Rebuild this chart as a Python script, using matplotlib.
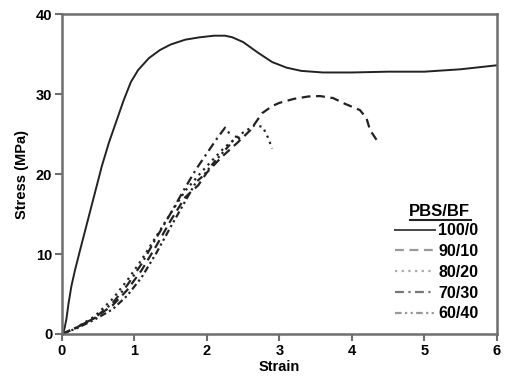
import matplotlib
matplotlib.use("Agg")
import matplotlib.pyplot as plt
from matplotlib.lines import Line2D

plt.rcParams['font.family'] = ['Liberation Sans', 'DejaVu Sans']
plt.rcParams['font.weight'] = 'bold'

labels = ["100/0", "90/10", "80/20", "70/30", "60/40"]

s100_x = [0, 0.03, 0.06, 0.09, 0.13, 0.18, 0.25, 0.35, 0.45, 0.55, 0.65, 0.75, 0.85, 0.95, 1.05, 1.2, 1.35, 1.5,
          1.7, 1.9, 2.1, 2.25, 2.35, 2.5, 2.7, 2.9, 3.1, 3.3, 3.6, 4.0, 4.5, 5.0, 5.5, 6.0]
s100_y = [0, 0.5, 1.8, 3.8, 6, 8, 10.5, 14, 17.5, 21, 24, 26.6, 29.2, 31.5, 33.0, 34.5, 35.5, 36.2,
          36.8, 37.1, 37.3, 37.3, 37.1, 36.5, 35.2, 34.0, 33.3, 32.9, 32.7, 32.7, 32.8, 32.8, 33.1, 33.6]

s90_x = [0, 0.2, 0.45, 0.7, 0.9, 1.1, 1.3, 1.5, 1.7, 1.88, 2.0, 2.2, 2.43, 2.6, 2.76, 2.9, 3.0, 3.2, 3.4, 3.56,
         3.74, 3.9, 4.11, 4.2, 4.25, 4.36, 4.38]
s90_y = [0, 0.8, 2, 3.6, 5.5, 8.0, 11.0, 14.2, 17.1, 18.6, 20.2, 22.1, 24, 25.5, 27.6, 28.5, 28.9, 29.4, 29.7, 29.75,
         29.5, 28.8, 28, 27, 25.5, 24, 23.8]

s80_x = [0, 0.2, 0.45, 0.7, 0.9, 1.1, 1.3, 1.5, 1.7, 1.9, 2.05, 2.25, 2.5, 2.66, 2.77, 2.84, 2.9]
s80_y = [0, 0.8, 2.2, 4.4, 6.7, 9.3, 12.2, 15.1, 17.9, 20, 21.5, 23.4, 25.2, 26.1, 25.9, 24.6, 23.2]

s70_x = [0, 0.2, 0.45, 0.7, 0.9, 1.1, 1.3, 1.5, 1.7, 1.85, 2.0, 2.15, 2.25, 2.3, 2.33]
s70_y = [0, 0.8, 2, 3.9, 6.1, 8.8, 12.0, 15.1, 18.3, 20.6, 22.6, 24.6, 25.8, 25.2, 24.6]

s60_x = [0, 0.2, 0.45, 0.7, 0.9, 1.1, 1.3, 1.5, 1.7, 1.85, 1.95, 2.1, 2.3, 2.42, 2.45]
s60_y = [0, 0.7, 1.8, 3.1, 4.8, 7.1, 10.1, 13.4, 16.6, 19, 19.8, 21.5, 23.5, 24.9, 24.3]

xticks = [0, 1, 2, 3, 4, 5, 6]
yticks = [0, 10, 20, 30, 40]

dark = '#222222'
styles = [
    dict(ls='-', lw=1.4),
    dict(ls=(0, (4, 2.5)), lw=1.6),
    dict(ls=(0, (1, 2.0)), lw=1.6),
    dict(ls=(0, (4, 2, 1, 2)), lw=1.6),
    dict(ls=(0, (3, 1.5, 1, 1.5, 1, 1.5)), lw=1.6),
]

fig = plt.figure(figsize=(5.06, 3.81), dpi=100)
ax = fig.add_axes([0.1225, 0.1234, 0.8595, 0.8396])

series = [(s100_x, s100_y), (s90_x, s90_y), (s80_x, s80_y), (s70_x, s70_y), (s60_x, s60_y)]
for (xs, ys), st in zip(series, styles):
    ax.plot(xs, ys, color=dark, **st)

ax.set_xlim(0, 6)
ax.set_ylim(0, 40)
ax.set_xticks(xticks)
ax.set_yticks(yticks)
ax.set_xticklabels([str(t) for t in xticks], fontsize=10.5, fontweight='bold')
ax.set_yticklabels([str(t) for t in yticks], fontsize=10.5, fontweight='bold')
spine_c = '#6e6e6e'
for s in ax.spines.values():
    s.set_color(spine_c)
    s.set_linewidth(1.8)
ax.tick_params(direction='out', length=5, width=1.5, color=spine_c, pad=2)
ax.set_xlabel('Strain', fontsize=10.5, fontweight='bold', labelpad=2)
ax.set_ylabel('Stress (MPa)', fontsize=10.5, fontweight='bold', labelpad=5)

legend_colors = ['#444444', '#999999', '#aaaaaa', '#777777', '#999999']
handles = [Line2D([0], [0], color=c, **st) for c, st in zip(legend_colors, styles)]
leg = fig.legend(handles, labels, loc='upper left', bbox_to_anchor=(0.781, 0.414),
                 frameon=False, handlelength=2.5, handletextpad=0.2,
                 labelspacing=0.36, borderaxespad=0, borderpad=0,
                 prop={'weight': 'bold', 'size': 11.5})
fig.text(0.869, 0.446, 'PBS/BF', fontsize=12, fontweight='bold', ha='center', va='center')
fig.add_artist(Line2D([0.810, 0.930], [0.423, 0.423], color='#222222', lw=1.5,
                      transform=fig.transFigure))

fig.savefig('out.png', dpi=100)
